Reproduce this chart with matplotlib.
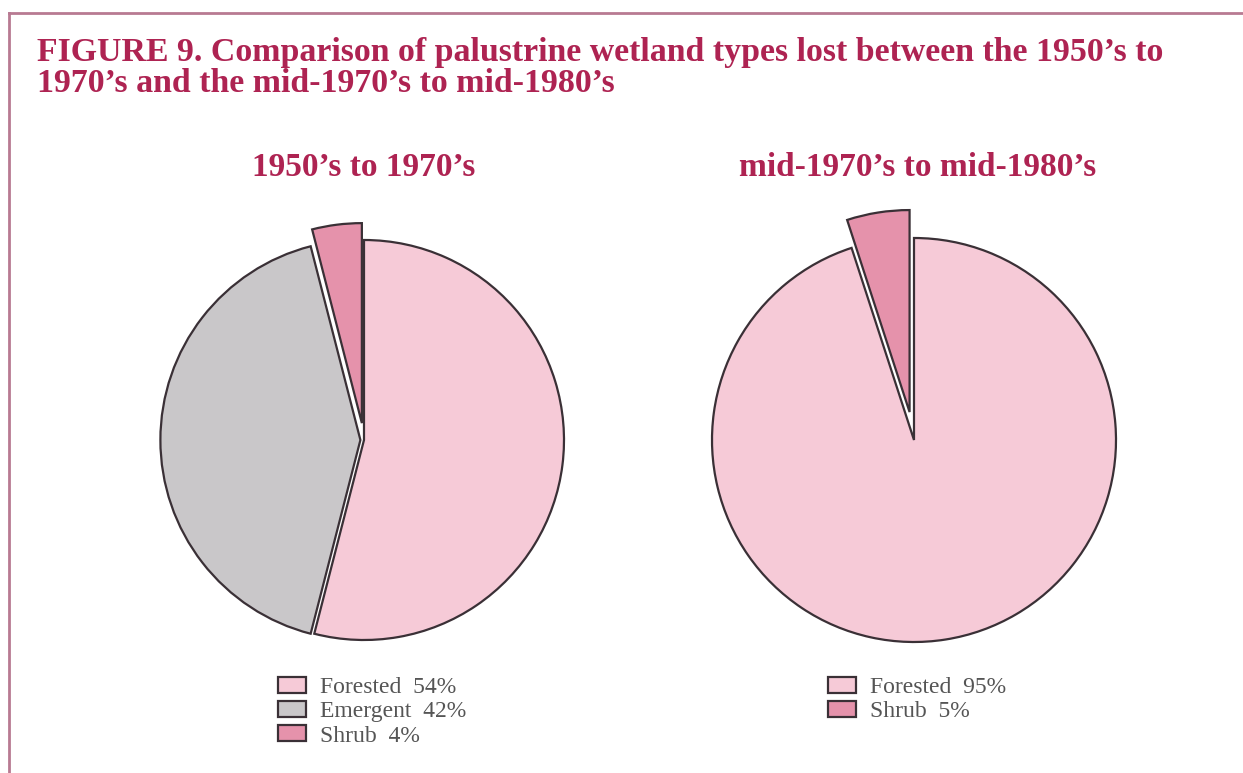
import matplotlib
matplotlib.use("Agg")
import matplotlib.pyplot as plt
from matplotlib.lines import Line2D

# data
left_labels = ["Forested", "Emergent", "Shrub"]
left_values = [54, 42, 4]
right_labels = ["Forested", "Shrub"]
right_values = [95, 5]

title_lines = ["FIGURE 9. Comparison of palustrine wetland types lost between the 1950\u2019s to",
               "1970\u2019s and the mid-1970\u2019s to mid-1980\u2019s"]
left_title = "1950\u2019s to 1970\u2019s"
right_title = "mid-1970\u2019s to mid-1980\u2019s"

c_forest = "#f6cad7"
c_emerg = "#c9c7c9"
c_shrub = "#e592ab"
c_edge = "#3a3036"
c_title = "#ae2352"
c_frame = "#b87a92"

W, H = 1243, 773
fig = plt.figure(figsize=(W / 100, H / 100), dpi=100)
fig.patch.set_facecolor("white")
plt.rcParams["font.family"] = ["Liberation Serif", "DejaVu Serif"]

# frame lines (top and left)
fig.add_artist(Line2D([9 / W, 1], [1 - 13 / H, 1 - 13 / H], color=c_frame, lw=2))
fig.add_artist(Line2D([9 / W, 9 / W], [0, 1 - 13 / H], color=c_frame, lw=2))

for i, line in enumerate(title_lines):
    fig.text(37 / W, 1 - (61 + 31 * i) / H, line, color=c_title, fontsize=24.4,
             fontweight="bold", va="baseline", ha="left")


def make_pie(cx, cy, r, values, colors, explode):
    half = 1.2 * r
    ax = fig.add_axes([(cx - half) / W, (H - cy - half) / H, 2 * half / W, 2 * half / H])
    wedges, _ = ax.pie(values, colors=colors, explode=explode, startangle=90,
                       counterclock=False,
                       wedgeprops=dict(edgecolor=c_edge, linewidth=1.6))
    ax.set_xlim(-1.2, 1.2)
    ax.set_ylim(-1.2, 1.2)
    ax.set_aspect("equal")
    ax.axis("off")
    return wedges


lw = make_pie(364, 440, 200, left_values, [c_forest, c_emerg, c_shrub], [0, 0.018, 0.085])
rw = make_pie(914, 440, 202, right_values, [c_forest, c_shrub], [0, 0.14])

fig.text(364 / W, 1 - 176 / H, left_title, color=c_title, fontsize=24, fontweight="bold",
         ha="center", va="baseline")
fig.text(918 / W, 1 - 176 / H, right_title, color=c_title, fontsize=24, fontweight="bold",
         ha="center", va="baseline")


def make_legend(handles, labels, values, x, y):
    texts = [f"{l}  {v}%" for l, v in zip(labels, values)]
    leg = fig.legend(handles, texts, loc="upper left",
                     bbox_to_anchor=(x / W, 1 - y / H), frameon=False,
                     fontsize=17, handlelength=1.2, handleheight=0.65,
                     handletextpad=0.6, labelspacing=0.13, borderaxespad=0, borderpad=0)
    for t in leg.get_texts():
        t.set_color("#555555")
    return leg


make_legend(lw, left_labels, left_values, 278, 677)
make_legend(rw, right_labels, right_values, 828, 677)

fig.savefig("out.png", dpi=100, facecolor="white")
